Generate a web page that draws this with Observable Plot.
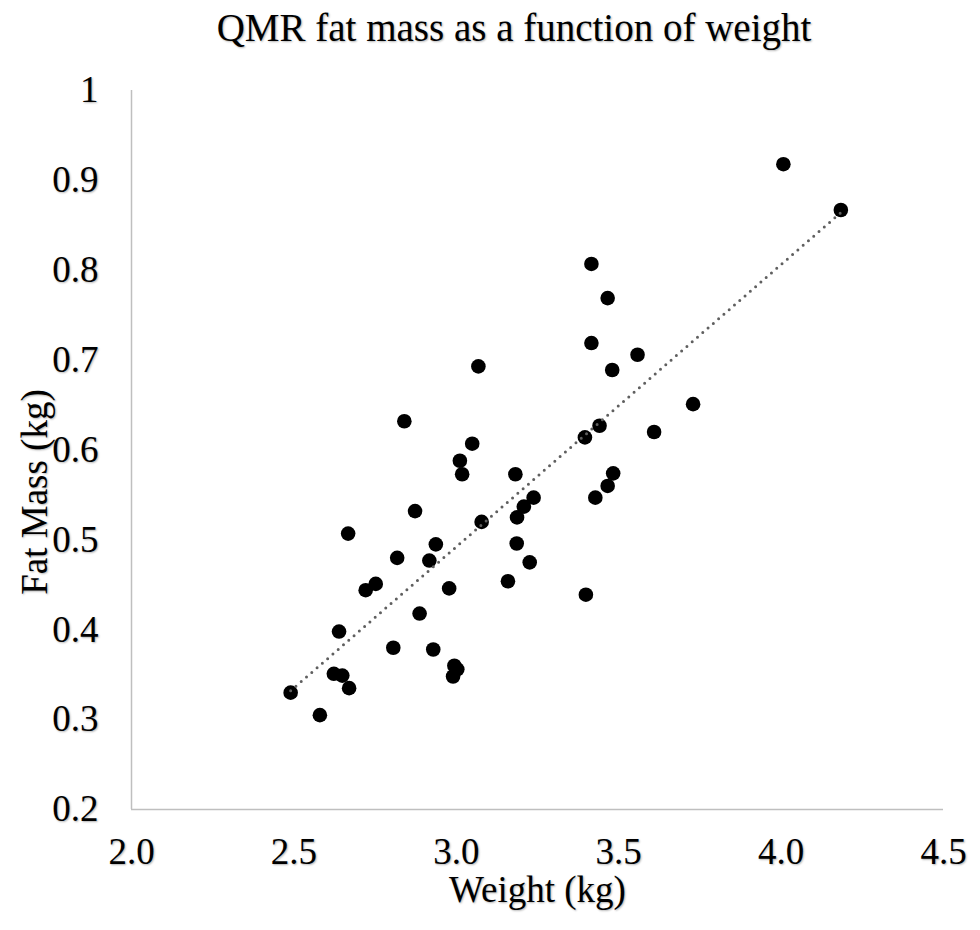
<!DOCTYPE html>
<html><head><meta charset="utf-8">
<script src="https://cdn.jsdelivr.net/npm/d3@7"></script>
<script src="https://cdn.jsdelivr.net/npm/@observablehq/plot@0.6"></script>
<style>
body{margin:0;background:#fff;}
#wrap{position:relative;width:980px;height:930px;}
#title{width:980px;height:60px;box-sizing:border-box;padding-top:8px;padding-left:48px;text-align:center;font-family:'Liberation Serif',serif;font-size:39px;line-height:39px;color:#000;text-shadow:1px 1px 2px rgba(0,0,0,0.3);}
#ylabel{position:absolute;left:34px;top:492px;transform:translate(-50%,-50%) rotate(-90deg);white-space:nowrap;font-family:'Liberation Serif',serif;font-size:37px;line-height:37px;color:#000;text-shadow:-1px 1px 2px rgba(0,0,0,0.3);}
#chart svg text{text-shadow:1px 1px 2px rgba(0,0,0,0.3);}
</style></head><body>
<div id="wrap">
<div id="title"></div>
<div id="chart"></div>
<div id="ylabel"></div>
</div>
<script>
const titleText = "QMR fat mass as a function of weight";
const weight = [2.490,2.580,2.623,2.639,2.649,2.667,2.670,2.721,2.752,2.806,2.818,2.840,2.873,2.887,2.917,2.929,2.937,2.978,2.990,2.994,3.003,3.011,3.018,3.049,3.068,3.078,3.159,3.182,3.186,3.187,3.208,3.226,3.238,3.396,3.399,3.416,3.416,3.428,3.441,3.466,3.466,3.480,3.483,3.558,3.609,3.729,4.007,4.184];
const fatMass = [0.330,0.305,0.351,0.398,0.349,0.507,0.335,0.444,0.451,0.380,0.480,0.632,0.532,0.418,0.477,0.378,0.495,0.446,0.348,0.360,0.356,0.588,0.573,0.607,0.693,0.520,0.454,0.573,0.496,0.525,0.537,0.475,0.547,0.614,0.439,0.719,0.807,0.547,0.627,0.560,0.769,0.689,0.574,0.706,0.620,0.651,0.918,0.867];
const xTicks = [2.0,2.5,3.0,3.5,4.0,4.5];
const xTickLabels = ["2.0","2.5","3.0","3.5","4.0","4.5"];
const yTicks = [0.2,0.3,0.4,0.5,0.6,0.7,0.8,0.9,1];
const yTickLabels = ["0.2","0.3","0.4","0.5","0.6","0.7","0.8","0.9","1"];
const xLabel = "Weight (kg)";
const yLabel = "Fat Mass (kg)";

document.getElementById("title").textContent = titleText;
document.getElementById("ylabel").textContent = yLabel;

const data = weight.map((w, i) => ({weight: w, fat: fatMass[i]}));
const FONT = "Liberation Serif";

const chart = Plot.plot({
  width: 980,
  height: 870,
  marginTop: 30,
  marginBottom: 121,
  marginLeft: 131,
  marginRight: 37,
  style: {fontFamily: FONT, fontSize: "37px", color: "#000", background: "#fff"},
  x: {domain: [2, 4.5]},
  y: {domain: [0.2, 1]},
  marks: [
    Plot.ruleX([2], {stroke: "#bfbfbf", strokeWidth: 1.5}),
    Plot.ruleY([0.2], {stroke: "#bfbfbf", strokeWidth: 1.5}),
    Plot.axisX(xTicks, {tickSize: 0, tickPadding: 28, fontFamily: FONT, fontSize: 37, tickFormat: d => xTickLabels[xTicks.indexOf(d)], label: null}),
    Plot.axisY(yTicks, {tickSize: 0, tickPadding: 33, fontFamily: FONT, fontSize: 37, tickFormat: d => yTickLabels[yTicks.indexOf(d)], label: null}),
    Plot.text([xLabel], {text: d => d, frameAnchor: "bottom", lineAnchor: "bottom", dy: 92, fontSize: 37, fontFamily: FONT}),
    Plot.dot(data, {x: "weight", y: "fat", r: 7.3, fill: "#000", stroke: "none"}),
    Plot.linearRegressionY(data, {x: "weight", y: "fat", ci: 0, stroke: "#5f5f5f", strokeWidth: 3, strokeDasharray: "0 7", strokeLinecap: "round"})
  ]
});
document.getElementById("chart").appendChild(chart);
</script>
</body></html>
